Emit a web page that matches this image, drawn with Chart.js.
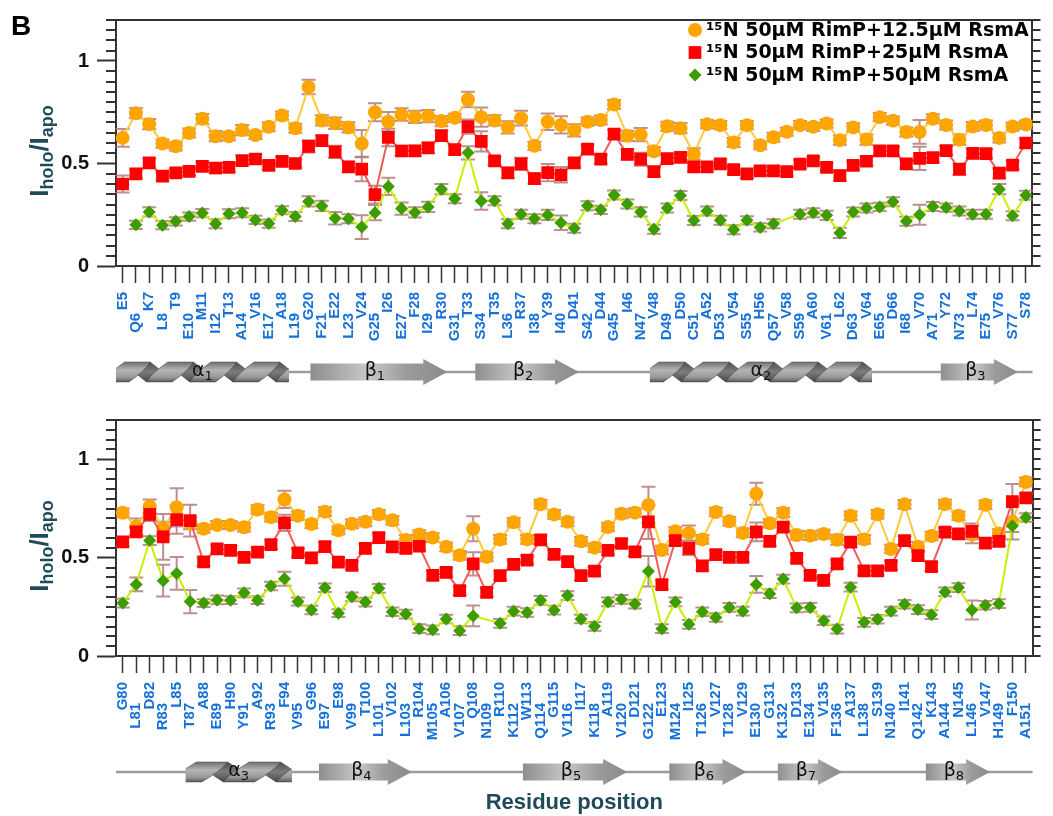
<!DOCTYPE html>
<html>
<head>
<meta charset="utf-8">
<script src="https://cdn.jsdelivr.net/npm/chart.js@4/dist/chart.umd.min.js"></script>
<style>
  html, body { margin: 0; padding: 0; background: #ffffff; }
  #wrap { position: relative; width: 1053px; height: 816px; overflow: hidden; }
  canvas { position: absolute; left: 0; }
  #panelTop { top: 0; }
  #panelBottom { top: 400px; }
</style>
</head>
<body>
<div id="wrap">
  <canvas id="panelTop" width="1053" height="400" style="width:1053px;height:400px"></canvas>
  <canvas id="panelBottom" width="1053" height="416" style="width:1053px;height:416px"></canvas>
</div>
<script>
// ---------- Residues (N-terminal domain, residues 5-78) ----------
const topResidues = ['E5','Q6','K7','L8','T9','E10','M11','I12','T13','A14','V16','E17','A18','L19','G20','F21','E22','L23','V24','G25','I26','E27','F28','I29','R30','G31','T33','S34','T35','L36','R37','I38','Y39','I40','D41','S42','D44','G45','I46','N47','V48','D49','D50','C51','A52','D53','V54','S55','H56','Q57','V58','S59','A60','V61','L62','D63','V64','E65','D66','I68','V70','A71','Y72','N73','L74','E75','V76','S77','S78'];

// I_holo / I_apo, 50 µM RimP + 12.5 µM RsmA
const topRatio12 = [0.625,0.745,0.692,0.597,0.584,0.649,0.718,0.633,0.633,0.663,
  0.639,0.679,0.734,0.672,0.873,0.710,0.696,0.676,0.597,0.750,
  0.704,0.739,0.727,0.731,0.707,0.723,0.812,0.726,0.710,0.676,
  0.721,0.586,0.704,0.688,0.662,0.704,0.712,0.788,0.635,0.641,
  0.560,0.682,0.672,0.546,0.692,0.687,0.603,0.687,0.589,0.628,
  0.655,0.687,0.679,0.695,0.614,0.676,0.617,0.726,0.709,0.654,
  0.654,0.718,0.688,0.616,0.680,0.688,0.625,0.680,0.690];
const topErr12 = [0.043,0.024,0.025,0.020,0.020,0.022,0.024,0.025,0.020,0.025,
  0.020,0.022,0.020,0.022,0.035,0.025,0.028,0.025,0.066,0.044,
  0.047,0.030,0.030,0.030,0.025,0.020,0.038,0.047,0.025,0.030,
  0.036,0.020,0.040,0.042,0.030,0.020,0.022,0.022,0.025,0.032,
  0.020,0.022,0.025,0.028,0.020,0.020,0.022,0.020,0.020,0.022,
  0.020,0.020,0.020,0.020,0.022,0.020,0.025,0.020,0.020,0.022,
  0.058,0.022,0.022,0.025,0.022,0.022,0.022,0.020,0.020];

// 50 µM RimP + 25 µM RsmA
const topRatio25 = [0.400,0.449,0.503,0.438,0.454,0.462,0.486,0.478,0.481,0.514,
  0.522,0.491,0.510,0.500,0.584,0.612,0.557,0.483,0.473,0.348,
  0.627,0.561,0.562,0.576,0.636,0.568,0.680,0.608,0.513,0.454,
  0.498,0.426,0.456,0.445,0.503,0.570,0.521,0.643,0.544,0.521,
  0.460,0.524,0.530,0.483,0.483,0.498,0.470,0.449,0.464,0.464,
  0.460,0.497,0.513,0.481,0.441,0.491,0.511,0.562,0.562,0.498,
  0.525,0.529,0.563,0.472,0.549,0.548,0.453,0.492,0.600];
const topErr25 = [0.041,0.022,0.022,0.022,0.020,0.020,0.022,0.025,0.022,0.022,
  0.022,0.022,0.022,0.020,0.030,0.025,0.030,0.025,0.060,0.043,
  0.043,0.025,0.025,0.025,0.025,0.022,0.035,0.049,0.020,0.025,
  0.030,0.025,0.042,0.038,0.022,0.022,0.022,0.022,0.025,0.032,
  0.022,0.022,0.022,0.022,0.022,0.022,0.022,0.020,0.020,0.022,
  0.020,0.020,0.020,0.020,0.025,0.022,0.022,0.020,0.020,0.022,
  0.057,0.022,0.022,0.028,0.022,0.022,0.025,0.020,0.022];

// 50 µM RimP + 50 µM RsmA
const topRatio50 = [null,0.201,0.264,0.199,0.218,0.241,0.258,0.206,0.255,0.260,
  0.225,0.207,0.272,0.241,0.315,0.293,0.233,0.230,0.190,0.260,
  0.388,0.280,0.261,0.288,0.375,0.328,0.552,0.317,0.318,0.206,
  0.253,0.230,0.249,0.211,0.184,0.294,0.274,0.346,0.302,0.264,
  0.179,0.283,0.344,0.222,0.268,0.223,0.177,0.223,0.188,0.206,
  null,0.253,0.260,0.247,0.161,0.263,0.283,0.288,0.313,0.218,
  0.250,0.290,0.285,0.268,0.252,0.252,0.375,0.245,0.345];
const topErr50 = [0,0.020,0.022,0.020,0.020,0.020,0.020,0.022,0.022,0.022,
  0.020,0.020,0.020,0.022,0.025,0.025,0.030,0.022,0.058,0.037,
  0.042,0.030,0.025,0.025,0.025,0.022,0.032,0.043,0.022,0.022,
  0.022,0.022,0.025,0.035,0.022,0.022,0.020,0.022,0.022,0.022,
  0.022,0.022,0.022,0.022,0.022,0.022,0.022,0.020,0.020,0.022,
  0,0.022,0.022,0.022,0.025,0.022,0.022,0.020,0.022,0.022,
  0.049,0.022,0.020,0.022,0.022,0.022,0.025,0.022,0.022];

// ---------- Residues (C-terminal domain, residues 80-151) ----------
const bottomResidues = ['G80','L81','D82','R83','L85','T87','A88','E89','H90','Y91','A92','R93','F94','V95','G96','E97','E98','V99','T100','L101','V102','L103','R104','M105','A106','V107','Q108','N109','R110','K112','W113','Q114','G115','V116','I117','K118','A119','V120','D121','G122','E123','M124','I125','T126','V127','T128','V129','E130','G131','K132','D133','E134','V135','F136','A137','L138','S139','N140','I141','Q142','K143','A144','N145','L146','V147','H149','F150','A151'];

const bottomRatio12 = [0.728,0.658,0.761,0.650,0.756,0.674,0.647,0.666,0.666,0.655,
  0.745,0.706,0.796,0.713,0.671,0.734,0.639,0.672,0.682,0.721,
  0.690,0.590,0.618,0.602,0.555,0.512,0.647,0.504,0.593,0.680,
  0.593,0.772,0.720,0.682,0.583,0.551,0.656,0.723,0.729,0.768,
  0.539,0.634,0.625,0.593,0.732,0.685,0.626,0.825,0.675,0.729,
  0.615,0.612,0.620,0.591,0.713,0.593,0.721,0.544,0.771,0.555,
  0.610,0.772,0.713,0.618,0.769,0.623,0.682,0.885];
const bottomErr12 = [0.022,0.041,0.035,0.032,0.097,0.030,0.020,0.020,0.020,0.022,
  0.022,0.022,0.044,0.022,0.022,0.022,0.020,0.022,0.022,0.022,
  0.022,0.025,0.022,0.022,0.022,0.022,0.063,0.022,0.022,0.022,
  0.022,0.022,0.022,0.022,0.022,0.022,0.022,0.022,0.022,0.092,
  0.022,0.022,0.038,0.022,0.022,0.022,0.022,0.056,0.022,0.022,
  0.022,0.022,0.022,0.025,0.022,0.022,0.022,0.022,0.022,0.025,
  0.022,0.022,0.022,0.045,0.022,0.022,0.090,0.022];

const bottomRatio25 = [0.580,0.631,0.720,0.606,0.693,0.688,0.479,0.545,0.537,0.502,
  0.528,0.566,0.677,0.525,0.499,0.556,0.477,0.461,0.547,0.602,
  0.555,0.547,0.558,0.410,0.425,0.332,0.468,0.323,0.409,0.466,
  0.488,0.591,0.517,0.480,0.409,0.431,0.537,0.572,0.530,0.682,
  0.363,0.587,0.547,0.458,0.515,0.502,0.502,0.631,0.583,0.655,
  0.496,0.410,0.385,0.468,0.579,0.433,0.433,0.461,0.587,0.510,
  0.455,0.630,0.621,0.634,0.574,0.583,0.785,0.804];
const bottomErr25 = [0.022,0.022,0.034,0.116,0.071,0.081,0.022,0.022,0.022,0.022,
  0.022,0.022,0.041,0.022,0.022,0.022,0.022,0.022,0.022,0.022,
  0.022,0.022,0.022,0.022,0.022,0.022,0.059,0.022,0.022,0.022,
  0.022,0.022,0.022,0.022,0.022,0.022,0.022,0.022,0.022,0.087,
  0.022,0.022,0.034,0.022,0.022,0.022,0.022,0.048,0.022,0.022,
  0.022,0.022,0.022,0.022,0.022,0.022,0.022,0.022,0.022,0.022,
  0.022,0.022,0.022,0.040,0.022,0.022,0.090,0.022];

const bottomRatio50 = [0.269,0.364,0.587,0.383,0.420,0.277,0.269,0.285,0.284,0.321,
  0.284,0.356,0.393,0.277,0.234,0.347,0.218,0.301,0.274,0.344,
  0.225,0.213,0.139,0.133,0.188,0.129,0.204,null,0.166,0.228,
  0.221,0.283,0.233,0.307,0.188,0.151,0.275,0.288,0.264,0.431,
  0.139,0.275,0.161,0.225,0.196,0.247,0.228,0.364,0.317,0.391,
  0.245,0.247,0.179,0.137,0.350,0.171,0.187,0.228,0.263,0.236,
  0.210,0.326,0.348,0.234,0.258,0.266,0.661,0.704];
const bottomErr50 = [0.022,0.035,0.022,0.081,0.083,0.059,0.020,0.022,0.020,0.022,
  0.020,0.022,0.036,0.020,0.022,0.022,0.020,0.022,0.022,0.022,
  0.022,0.022,0.022,0.022,0.022,0.022,0.053,0,0.022,0.022,
  0.022,0.022,0.022,0.022,0.022,0.022,0.022,0.022,0.022,0.078,
  0.022,0.022,0.022,0.022,0.022,0.022,0.022,0.043,0.022,0.022,
  0.022,0.022,0.022,0.022,0.022,0.022,0.022,0.022,0.022,0.022,
  0.022,0.022,0.022,0.048,0.022,0.022,0.030,0.022];

const seriesLabels = ['¹⁵N 50μM RimP+12.5μM RsmA', '¹⁵N 50μM RimP+25μM RsmA', '¹⁵N 50μM RimP+50μM RsmA'];
const yTickLabels = ['0', '0.5', '1'];
const Y_MAX = 1.2;
const Y_MAJOR_STEP = 0.5;
const Y_MINOR_STEP = 0.05;

// Secondary-structure elements, in category-index units along each residue axis
const topStructure = [
  { kind: 'helix',  from: -0.5,  to: 12.5,  name: 'α', num: '1' },
  { kind: 'strand', from: 14.14, to: 24.44, name: 'β', num: '1' },
  { kind: 'strand', from: 26.55, to: 34.35, name: 'β', num: '2' },
  { kind: 'helix',  from: 39.7,  to: 56.4,  name: 'α', num: '2' },
  { kind: 'strand', from: 61.6,  to: 67.4,  name: 'β', num: '3' }
];
const bottomStructure = [
  { kind: 'helix',  from: 4.68,  to: 12.53, name: 'α', num: '3' },
  { kind: 'strand', from: 14.56, to: 21.44, name: 'β', num: '4' },
  { kind: 'strand', from: 29.69, to: 37.42, name: 'β', num: '5' },
  { kind: 'strand', from: 40.55, to: 46.27, name: 'β', num: '6' },
  { kind: 'strand', from: 48.6,  to: 53.36, name: 'β', num: '7' },
  { kind: 'strand', from: 59.58, to: 64.34, name: 'β', num: '8' }
];

// ---------- Styling ----------
const seriesStyle = [
  { fill: '#ffa500', line: '#ffc93c', shape: 'circle',  radius: 7 },
  { fill: '#ff0000', line: '#f25a5a', shape: 'rect',    radius: 9 },
  { fill: '#3c9c00', line: '#c9ef00', shape: 'rectRot', radius: 6.5 }
];
const AXIS_COLOR = '#333333';
const TITLE_COLOR = '#1e4a59';
const RESIDUE_COLOR = '#1570d8';
const STAGGER = '     ';

Chart.defaults.font.family = "'Liberation Sans', Arial, sans-serif";

function isHalfStep(v) { return Math.abs(v * 2 - Math.round(v * 2)) < 1e-6; }

function buildDatasets(series, errors) {
  return series.map((values, k) => ({
    label: seriesLabels[k],
    data: values,
    errors: errors[k],
    xAxisID: 'x',
    yAxisID: 'y',
    borderColor: seriesStyle[k].line,
    backgroundColor: seriesStyle[k].fill,
    pointBackgroundColor: seriesStyle[k].fill,
    pointBorderColor: seriesStyle[k].fill,
    pointBorderWidth: 0,
    pointStyle: seriesStyle[k].shape,
    pointRadius: seriesStyle[k].radius,
    borderWidth: 2,
    tension: 0,
    spanGaps: true,
    order: 3 - k
  }));
}

// Vertical error bars with caps, positioned through the chart's scales
const errorBarPlugin = {
  id: 'errorBars',
  beforeDatasetsDraw(chart) {
    const { ctx } = chart;
    const yScale = chart.scales.y;
    ctx.save();
    ctx.strokeStyle = 'rgba(178,124,124,0.85)';
    ctx.lineWidth = 2;
    chart.data.datasets.forEach((ds, di) => {
      const meta = chart.getDatasetMeta(di);
      meta.data.forEach((pt, i) => {
        const v = ds.data[i];
        const e = ds.errors[i];
        if (v == null || !e) return;
        const yt = yScale.getPixelForValue(v + e);
        const yb = yScale.getPixelForValue(v - e);
        const x = pt.x;
        ctx.beginPath();
        ctx.moveTo(x, yt); ctx.lineTo(x, yb);
        ctx.moveTo(x - 7, yt); ctx.lineTo(x + 7, yt);
        ctx.moveTo(x - 7, yb); ctx.lineTo(x + 7, yb);
        ctx.stroke();
      });
    });
    ctx.restore();
  }
};

// Minor ticks on the left axis and tick marks along the right frame edge
const minorTickPlugin = {
  id: 'minorTicks',
  afterDraw(chart) {
    const ctx = chart.ctx;
    const ys = chart.scales.y;
    const left = ys.right;
    const right = chart.scales.yRight.left;
    ctx.save();
    ctx.strokeStyle = AXIS_COLOR;
    ctx.lineWidth = 2;
    ctx.setLineDash([]);
    const count = Math.round(Y_MAX / Y_MINOR_STEP);
    ctx.beginPath();
    for (let k = 0; k <= count; k++) {
      const v = k * Y_MINOR_STEP;
      const py = Math.round(ys.getPixelForValue(v));
      if (!isHalfStep(v)) {
        ctx.moveTo(left - 10, py);
        ctx.lineTo(left, py);
      }
      ctx.moveTo(right, py);
      ctx.lineTo(right + 8, py);
    }
    ctx.stroke();
    ctx.restore();
  }
};

// Rotated y-axis title with subscripts
const yTitlePlugin = {
  id: 'yTitle',
  afterDraw(chart) {
    const { ctx, chartArea } = chart;
    const parts = [
      { t: 'I', f: "bold 26px 'Liberation Sans'", dy: 0 },
      { t: 'holo', f: "bold 18px 'Liberation Sans'", dy: 5 },
      { t: '/I', f: "bold 26px 'Liberation Sans'", dy: 0 },
      { t: 'apo', f: "bold 18px 'Liberation Sans'", dy: 5 }
    ];
    ctx.save();
    let total = 0;
    parts.forEach(p => { ctx.font = p.f; p.w = ctx.measureText(p.t).width; total += p.w; });
    ctx.translate(48, (chartArea.top + chartArea.bottom) / 2 + 8);
    ctx.rotate(-Math.PI / 2);
    ctx.fillStyle = TITLE_COLOR;
    ctx.textBaseline = 'alphabetic';
    ctx.textAlign = 'left';
    let x = -total / 2;
    parts.forEach(p => { ctx.font = p.f; ctx.fillText(p.t, x, p.dy); x += p.w; });
    ctx.restore();
  }
};

function drawStrand(ctx, x0, x1, yc) {
  const bodyH = 8.5, headH = 13;
  const headL = Math.min(24, (x1 - x0) * 0.4);
  const g = ctx.createLinearGradient(x0, 0, x1, 0);
  g.addColorStop(0, '#8e8e8e');
  g.addColorStop(0.42, '#c8c8c8');
  g.addColorStop(0.7, '#9c9c9c');
  g.addColorStop(1, '#8a8a8a');
  ctx.fillStyle = g;
  ctx.beginPath();
  ctx.moveTo(x0, yc - bodyH);
  ctx.lineTo(x1 - headL, yc - bodyH);
  ctx.lineTo(x1 - headL, yc - headH);
  ctx.lineTo(x1, yc);
  ctx.lineTo(x1 - headL, yc + headH);
  ctx.lineTo(x1 - headL, yc + bodyH);
  ctx.lineTo(x0, yc + bodyH);
  ctx.closePath();
  ctx.fill();
}

// Ribbon helix: dark back strands, shaded front strands
function drawHelix(ctx, x0, x1, yc) {
  const h = 10;
  const n = Math.max(1, Math.round((x1 - x0) / 44));
  const p = (x1 - x0) / n;
  const w = p * 0.6;
  ctx.save();
  ctx.beginPath();
  ctx.rect(x0, yc - h - 1, x1 - x0, 2 * h + 2);
  ctx.clip();
  const back = ctx.createLinearGradient(0, yc - h, 0, yc + h);
  back.addColorStop(0, '#4e4e4e'); back.addColorStop(0.5, '#7c7c7c'); back.addColorStop(1, '#474747');
  const front = ctx.createLinearGradient(0, yc - h, 0, yc + h);
  front.addColorStop(0, '#707070'); front.addColorStop(0.4, '#b4b4b4'); front.addColorStop(0.75, '#9a9a9a'); front.addColorStop(1, '#5a5a5a');
  for (let k = -1; k <= n; k++) {
    const a = x0 + k * p;
    ctx.fillStyle = back;
    ctx.beginPath();
    ctx.moveTo(a + p / 2 - w / 2, yc - h);
    ctx.lineTo(a + p / 2 + w / 2, yc - h);
    ctx.quadraticCurveTo(a + 0.75 * p + w / 2 + 3, yc, a + p + w / 2, yc + h);
    ctx.lineTo(a + p - w / 2, yc + h);
    ctx.quadraticCurveTo(a + 0.75 * p - w / 2 - 3, yc, a + p / 2 - w / 2, yc - h);
    ctx.fill();
  }
  for (let k = -1; k <= n; k++) {
    const a = x0 + k * p;
    ctx.fillStyle = front;
    ctx.strokeStyle = 'rgba(60,60,60,0.6)';
    ctx.lineWidth = 0.8;
    ctx.beginPath();
    ctx.moveTo(a - w / 2, yc + h);
    ctx.lineTo(a + w / 2, yc + h);
    ctx.quadraticCurveTo(a + p / 4 + w / 2 + 4, yc, a + p / 2 + w / 2, yc - h);
    ctx.lineTo(a + p / 2 - w / 2, yc - h);
    ctx.quadraticCurveTo(a + p / 4 - w / 2 - 4, yc, a - w / 2, yc + h);
    ctx.fill();
    ctx.stroke();
  }
  ctx.restore();
}

function drawSubLabel(ctx, name, num, cx, yc) {
  ctx.save();
  ctx.fillStyle = '#111';
  ctx.textBaseline = 'alphabetic';
  ctx.textAlign = 'left';
  ctx.font = "19px 'DejaVu Sans'";
  const wn = ctx.measureText(name).width;
  ctx.font = "13px 'DejaVu Sans'";
  const ws = ctx.measureText(num).width;
  const x = cx - (wn + ws) / 2;
  ctx.font = "19px 'DejaVu Sans'";
  ctx.fillText(name, x, yc + 4);
  ctx.font = "13px 'DejaVu Sans'";
  ctx.fillText(num, x + wn, yc + 8);
  ctx.restore();
}

// Secondary-structure track under the residue labels
const structurePlugin = {
  id: 'structure',
  afterDraw(chart, args, opts) {
    if (!opts || !opts.elements) return;
    const { ctx } = chart;
    const xs = chart.scales.x;
    const yc = opts.y;
    ctx.save();
    ctx.strokeStyle = '#9c9c9c';
    ctx.lineWidth = 2.5;
    ctx.beginPath();
    ctx.moveTo(xs.getPixelForValue(opts.lineFrom), yc);
    ctx.lineTo(xs.getPixelForValue(opts.lineTo), yc);
    ctx.stroke();
    opts.elements.forEach(el => {
      const x0 = xs.getPixelForValue(el.from);
      const x1 = xs.getPixelForValue(el.to);
      if (el.kind === 'helix') {
        drawHelix(ctx, x0, x1, yc);
        drawSubLabel(ctx, el.name, el.num, (x0 + x1) / 2, yc);
      } else {
        drawStrand(ctx, x0, x1, yc);
        drawSubLabel(ctx, el.name, el.num, (x0 + x1) / 2 - 4, yc);
      }
    });
    ctx.restore();
  }
};

// Legend in the upper right of the first panel, plus the panel letter
const legendPlugin = {
  id: 'panelLegend',
  afterDraw(chart, args, opts) {
    if (!opts || !opts.show) return;
    const { ctx } = chart;
    ctx.save();
    ctx.font = "bold 28px 'Liberation Sans'";
    ctx.fillStyle = '#000';
    ctx.textBaseline = 'alphabetic';
    ctx.fillText(opts.letter, 11, 35);
    chart.data.datasets.forEach((ds, k) => {
      const y = opts.top + k * opts.rowGap;
      ctx.fillStyle = ds.pointBackgroundColor;
      Chart.helpers.drawPoint(ctx, { pointStyle: ds.pointStyle, radius: ds.pointRadius, rotation: 0, borderWidth: 0 }, opts.markerX, y);
      ctx.fillStyle = '#000';
      ctx.font = "bold 19px 'DejaVu Sans'";
      ctx.textBaseline = 'middle';
      ctx.textAlign = 'left';
      ctx.fillText(ds.label, opts.textX, y + 1);
    });
    ctx.restore();
  }
};

function makePanel(canvasId, residues, series, errors, cfg) {
  return new Chart(document.getElementById(canvasId), {
    type: 'line',
    data: { labels: residues, datasets: buildDatasets(series, errors) },
    options: {
      responsive: false,
      devicePixelRatio: 1,
      animation: false,
      events: [],
      layout: { padding: { top: cfg.padTop, left: 0, right: 0, bottom: 0 } },
      plugins: {
        legend: { display: false },
        tooltip: { enabled: false },
        structure: cfg.structure,
        panelLegend: cfg.legend
      },
      scales: {
        x: {
          type: 'category',
          position: 'bottom',
          offset: true,
          grid: { drawOnChartArea: false, drawTicks: true, tickLength: 17, tickColor: AXIS_COLOR, tickWidth: 1.5 },
          border: { display: true, color: AXIS_COLOR, width: 2 },
          ticks: {
            autoSkip: false,
            minRotation: 90,
            maxRotation: 90,
            padding: 9,
            color: RESIDUE_COLOR,
            font: { family: "'Liberation Sans'", weight: 'bold', size: 15 },
            callback: function (value, index) {
              const lab = this.getLabelForValue(value);
              return index % 2 ? lab + STAGGER : lab;
            }
          },
          title: cfg.xTitle,
          afterFit(scale) { scale.height = cfg.xHeight; }
        },
        xTop: {
          type: 'category',
          position: 'top',
          offset: true,
          grid: { drawOnChartArea: false, drawTicks: false },
          border: { display: true, color: AXIS_COLOR, width: 2 },
          ticks: { display: false },
          afterFit(scale) { scale.height = 0; }
        },
        y: {
          type: 'linear',
          position: 'left',
          min: 0,
          max: Y_MAX,
          grid: {
            drawOnChartArea: false,
            drawTicks: true,
            tickLength: 19,
            tickWidth: 2,
            tickColor: (ctx) => (ctx.tick && isHalfStep(ctx.tick.value)) ? AXIS_COLOR : 'rgba(0,0,0,0)'
          },
          border: { display: true, color: AXIS_COLOR, width: 2 },
          ticks: {
            stepSize: Y_MAJOR_STEP,
            autoSkip: false,
            padding: 8,
            color: '#111',
            font: { family: "'Liberation Sans'", weight: 'bold', size: 20 },
            callback: (v) => isHalfStep(v) ? (yTickLabels[Math.round(v * 2)] || '') : ''
          },
          afterFit(scale) { scale.width = 116; }
        },
        yRight: {
          type: 'linear',
          position: 'right',
          min: 0,
          max: Y_MAX,
          grid: { drawOnChartArea: false, drawTicks: false },
          border: { display: true, color: AXIS_COLOR, width: 2 },
          ticks: { display: false },
          afterFit(scale) { scale.width = 8; }
        }
      }
    },
    plugins: [errorBarPlugin, minorTickPlugin, yTitlePlugin, structurePlugin, legendPlugin]
  });
}

makePanel('panelTop', topResidues,
  [topRatio12, topRatio25, topRatio50],
  [topErr12, topErr25, topErr50],
  {
    padTop: 13,
    xHeight: 134,
    xTitle: { display: false },
    structure: { elements: topStructure, lineFrom: -0.5, lineTo: topResidues.length - 0.5, y: 372 },
    legend: { show: true, letter: 'B', markerX: 695, textX: 706, top: 30, rowGap: 22.5 }
  });

makePanel('panelBottom', bottomResidues,
  [bottomRatio12, bottomRatio25, bottomRatio50],
  [bottomErr12, bottomErr25, bottomErr50],
  {
    padTop: 4,
    xHeight: 160,
    xTitle: {
      display: true,
      text: 'Residue position',
      color: TITLE_COLOR,
      font: { family: "'Liberation Sans'", weight: 'bold', size: 22 },
      padding: { top: 0, bottom: 0 }
    },
    structure: { elements: bottomStructure, lineFrom: -0.5, lineTo: bottomResidues.length - 0.5, y: 372 },
    legend: { show: false }
  });
</script>
</body>
</html>
